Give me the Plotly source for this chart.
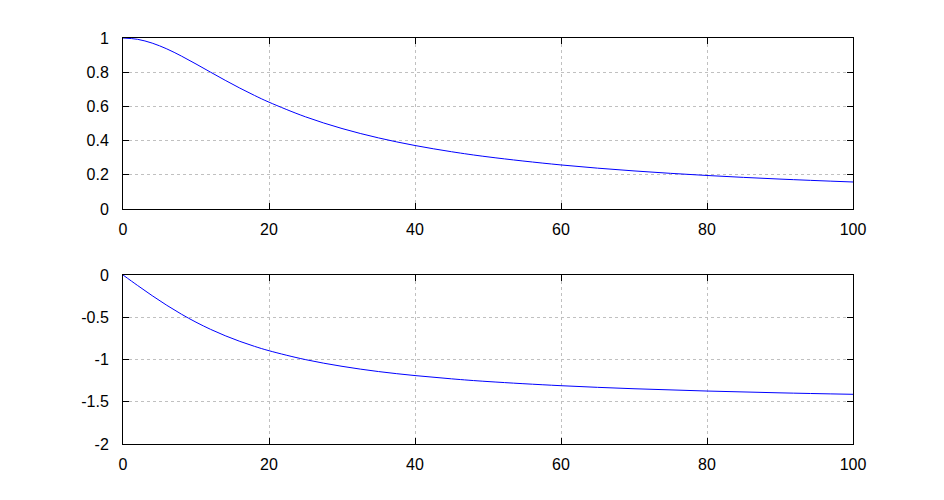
import plotly.graph_objects as go
from plotly.subplots import make_subplots

x_vals = [0, 2, 4, 6, 8, 10, 12, 14, 16, 18, 20, 25, 30, 35, 40, 45, 50, 60, 70, 80, 90, 100]
magnitude = [1.0, 0.9923, 0.9701, 0.9363, 0.8944, 0.8480, 0.8, 0.7526, 0.7071, 0.6644, 0.6247,
             0.5390, 0.4706, 0.4158, 0.3714, 0.3350, 0.3048, 0.2577, 0.2228, 0.1961, 0.1750, 0.1580]
phase = [0.0, -0.1244, -0.2450, -0.3588, -0.4636, -0.5586, -0.6435, -0.7188, -0.7854, -0.8442, -0.8961,
         -1.0015, -1.0808, -1.1427, -1.1903, -1.2290, -1.2611, -1.3102, -1.3461, -1.3734, -1.3948, -1.4120]

x_ticks = [0, 20, 40, 60, 80, 100]
top_ticks = [0, 0.2, 0.4, 0.6, 0.8, 1]
top_labels = ["0", "0.2", "0.4", "0.6", "0.8", "1"]
bot_ticks = [-2, -1.5, -1, -0.5, 0]
bot_labels = ["-2", "-1.5", "-1", "-0.5", "0"]

fig = make_subplots(rows=2, cols=1, vertical_spacing=0.1625)
fig.add_trace(go.Scatter(x=x_vals, y=magnitude, mode="lines", line=dict(color="blue", width=1, shape="spline"),
                         showlegend=False), row=1, col=1)
fig.add_trace(go.Scatter(x=x_vals, y=phase, mode="lines", line=dict(color="blue", width=1, shape="spline"),
                         showlegend=False), row=2, col=1)

axis_common = dict(showline=True, linecolor="black", linewidth=1, mirror="allticks",
                   ticks="inside", ticklen=6, tickcolor="black",
                   showgrid=True, gridcolor="#c0c0c0", griddash="3px,3px", gridwidth=1,
                   zeroline=False, tickfont=dict(family="Liberation Sans, Arial", size=16, color="black"))

fig.update_xaxes(range=[0, 100], tickvals=x_ticks, ticktext=[str(v) for v in x_ticks],
                 ticklabelstandoff=6, **axis_common)
fig.update_yaxes(ticklabelstandoff=10, **axis_common)
fig.update_yaxes(range=[0, 1], tickvals=top_ticks, ticktext=top_labels, row=1, col=1)
fig.update_yaxes(range=[-2, 0], tickvals=bot_ticks, ticktext=bot_labels, row=2, col=1)
fig.update_layout(xaxis=dict(domain=[0, 1]), yaxis=dict(domain=[0.5788, 1]),
                  yaxis2=dict(domain=[0, 0.4163]))

# page body has an 8px default margin, so the figure is offset by 8px
fig.update_layout(width=936, height=492, paper_bgcolor="white", plot_bgcolor="white",
                  margin=dict(l=115, r=91, t=30, b=56))

fig.write_html("out.html")
